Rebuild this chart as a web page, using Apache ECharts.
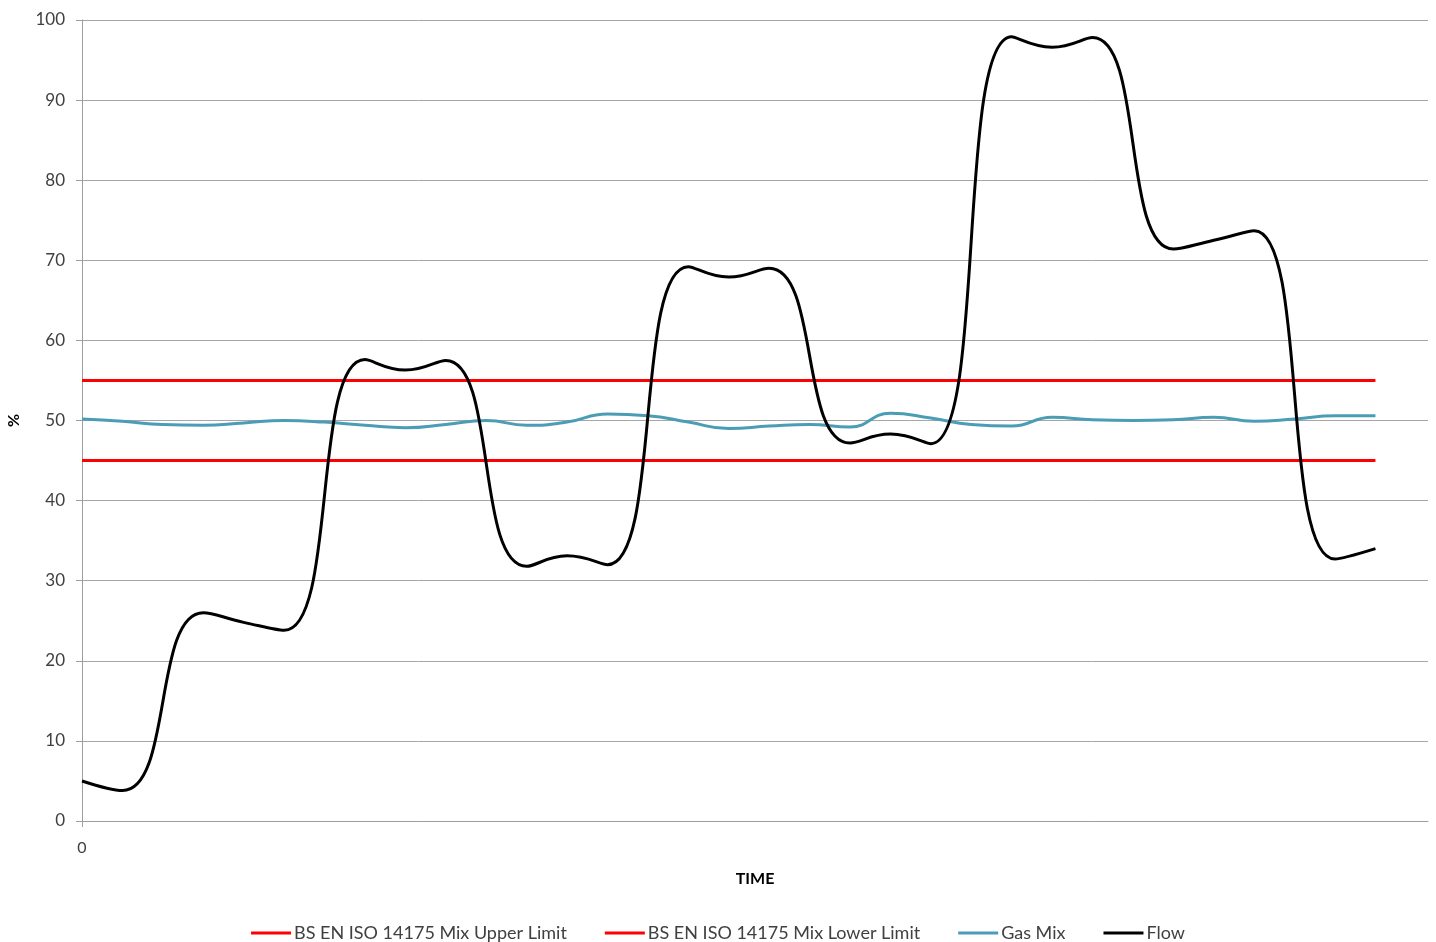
<!DOCTYPE html>
<html>
<head>
<meta charset="utf-8">
<script src="https://cdn.jsdelivr.net/npm/echarts@6/dist/echarts.min.js"></script>
<style>
  html, body { margin: 0; padding: 0; background: #fff; }
  #chart { width: 1436px; height: 942px; }
</style>
</head>
<body>
<div id="chart"></div>
<script>
// time steps (sample index)
const gasTime = [0,1,2,3,4,5,6,7,8,9,10,11,12,13,14,15,16,17,18,19,20,21,22,23,24,25,26,27,28,29,30,31,32];
const gasMix = [50.2,49.9,49.5,49.4,49.7,50.0,49.8,49.4,49.1,49.5,50.0,49.4,49.8,50.8,50.6,49.8,49.0,49.3,49.5,49.2,50.9,50.3,49.5,49.3,50.4,50.1,50.0,50.1,50.4,49.9,50.2,50.6,50.6];
const flowTime = [0,1,3,4,5,7,8,9,11,12,13,15,16,17,19,20,21,23,24,25,27,28,29,31,32];
const flow = [5,3.8,26,24.8,23.8,57.6,56.3,57.5,31.8,33.1,32,69.2,67.9,69,47.2,48.3,47.1,97.9,96.6,97.8,71.4,72.5,73.7,32.7,34];
const limitTime = [0, 32];
const upperLimit = [55, 55];
const lowerLimit = [45, 45];

const names = [
  "BS EN ISO 14175 Mix Upper Limit",
  "BS EN ISO 14175 Mix Lower Limit",
  "Gas Mix",
  "Flow"
];

const pairs = (xs, ys) => xs.map((x, i) => [x, ys[i]]);
const font = "Lato, 'Open Sans', sans-serif";

const chart = echarts.init(document.getElementById("chart"));
const option = {
  animation: false,
  textStyle: { fontFamily: font },
  grid: { left: 82, right: 8, top: 20, bottom: 121, outerBoundsMode: "none" },
  legend: {
    bottom: -5,
    left: "center",
    icon: "rect",
    itemWidth: 40,
    itemHeight: 3,
    itemGap: 38,
    data: names,
    textStyle: { fontSize: 18, color: "#404040", padding: [0, 0, 0, -2] }
  },
  xAxis: {
    type: "value",
    min: 0,
    max: 33.3,
    interval: 40,
    name: "TIME",
    nameLocation: "middle",
    nameGap: 50,
    nameTextStyle: { fontWeight: "bold", fontSize: 16, color: "#000" },
    axisLine: { show: true, lineStyle: { color: "#9e9e9e", width: 1 } },
    axisTick: { show: true, length: 6, lineStyle: { color: "#9e9e9e" } },
    axisLabel: { fontSize: 16, color: "#404040", margin: 19, showMaxLabel: false },
    splitLine: { show: false }
  },
  yAxis: {
    type: "value",
    min: 0,
    max: 100,
    interval: 10,
    name: "%",
    nameLocation: "middle",
    nameRotate: 90,
    nameGap: 60,
    nameTextStyle: { fontWeight: "bold", fontSize: 16, color: "#000" },
    axisLine: { show: true, lineStyle: { color: "#9e9e9e", width: 1 } },
    axisTick: { show: true, length: 6, lineStyle: { color: "#9e9e9e" } },
    axisLabel: { fontSize: 17, color: "#404040", margin: 17 },
    splitLine: { show: true, lineStyle: { color: "#a6a6a6", width: 1 } }
  },
  series: [
    {
      name: names[0],
      type: "line",
      showSymbol: false,
      data: pairs(limitTime, upperLimit),
      itemStyle: { color: "#ff0000" },
      lineStyle: { color: "#ff0000", width: 3 }
    },
    {
      name: names[1],
      type: "line",
      showSymbol: false,
      data: pairs(limitTime, lowerLimit),
      itemStyle: { color: "#ff0000" },
      lineStyle: { color: "#ff0000", width: 3 }
    },
    {
      name: names[2],
      type: "line",
      showSymbol: false,
      smooth: 0.5,
      data: pairs(gasTime, gasMix),
      itemStyle: { color: "#4a9db5" },
      lineStyle: { color: "#4a9db5", width: 3 }
    },
    {
      name: names[3],
      type: "line",
      showSymbol: false,
      smooth: 0.5,
      data: pairs(flowTime, flow),
      itemStyle: { color: "#000" },
      lineStyle: { color: "#000", width: 3 }
    }
  ]
};
chart.setOption(option);
</script>
</body>
</html>
